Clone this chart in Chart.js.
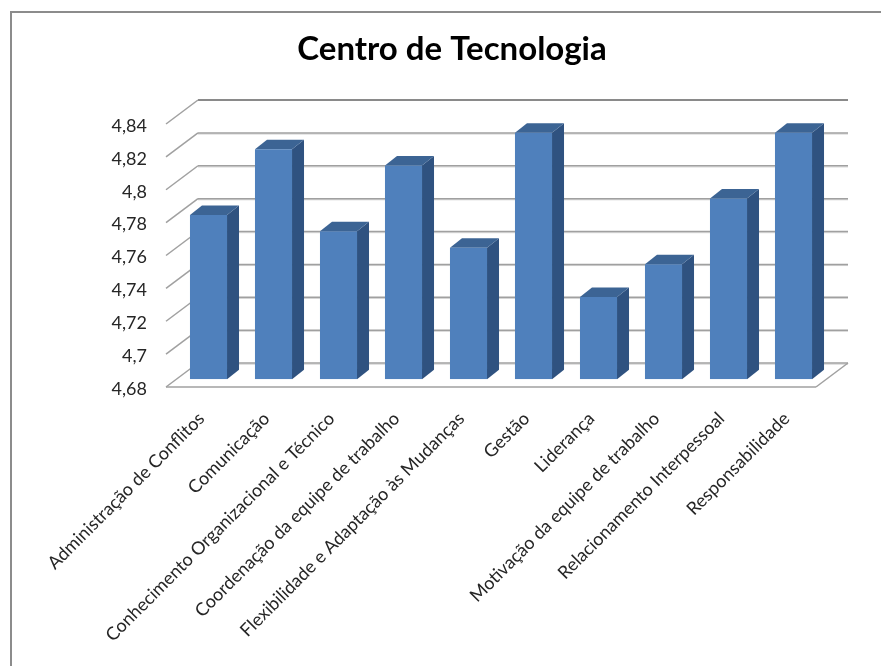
<!DOCTYPE html>
<html lang="pt">
<head>
<meta charset="utf-8">
<title>Centro de Tecnologia</title>
<script src="https://cdn.jsdelivr.net/npm/chart.js@4"></script>
<style>
  html, body { margin: 0; padding: 0; background: #fff; overflow: hidden; }
  canvas { display: block; }
</style>
</head>
<body>
<canvas id="chart" width="881" height="666"></canvas>
<script>
const categories = [
  'Administração de Conflitos',
  'Comunicação',
  'Conhecimento Organizacional e Técnico',
  'Coordenação da equipe de trabalho',
  'Flexibilidade e Adaptação às Mudanças',
  'Gestão',
  'Liderança',
  'Motivação da equipe de trabalho',
  'Relacionamento Interpessoal',
  'Responsabilidade',
];
const values = [4.78, 4.82, 4.77, 4.81, 4.76, 4.83, 4.73, 4.75, 4.79, 4.83];
const axisMin = 4.68;
const axisMax = 4.84;
const axisStep = 0.02;

// the depth of the fake 3d box and of each bar inside it
const wallDx = 32;
const wallDy = -24;
const barShiftX = 10;
const barShiftY = -7.7;
const barDx = 12;
const barDy = -9.5;

function line(ctx, x1, y1, x2, y2, color, width) {
  ctx.strokeStyle = color;
  ctx.lineWidth = width;
  ctx.beginPath();
  ctx.moveTo(x1, y1);
  ctx.lineTo(x2, y2);
  ctx.stroke();
}

function poly(ctx, points, color) {
  ctx.fillStyle = color;
  ctx.beginPath();
  points.forEach((p, i) => (i ? ctx.lineTo(p[0], p[1]) : ctx.moveTo(p[0], p[1])));
  ctx.closePath();
  ctx.fill();
}

const frame3d = {
  id: 'frame3d',
  beforeDraw(chart) {
    // chart border: only top and left show in the picture
    const { ctx } = chart;
    ctx.save();
    line(ctx, 11, 12, 881, 12, '#8c8c8c', 2);
    line(ctx, 11, 11, 11, 666, '#8c8c8c', 2);
    ctx.restore();
  },
  beforeDatasetsDraw(chart) {
    const { ctx, chartArea, scales } = chart;
    const { left, right } = chartArea;
    ctx.save();
    scales.y.ticks.forEach((tick, i) => {
      const y = scales.y.getPixelForTick(i);
      const isTop = i === scales.y.ticks.length - 1;
      if (!isTop) {
        line(ctx, left + wallDx, y + wallDy + 1.2, right + wallDx, y + wallDy + 1.2, '#d4d4d4', 1);
      }
      line(ctx, left + wallDx, y + wallDy, right + wallDx, y + wallDy, isTop ? '#8a8a8a' : '#a0a0a0', isTop ? 2 : 1.5);
      line(ctx, left, y, left + wallDx, y + wallDy, '#a0a0a0', 1.5);
    });
    // floor
    const floor = scales.y.getPixelForValue(axisMin);
    line(ctx, left, floor, right, floor, '#a0a0a0', 1.5);
    line(ctx, right, floor, right + wallDx, floor + wallDy, '#a0a0a0', 1.5);
    ctx.restore();

    // sides and tops of the bars, taken from the bar elements
    ctx.save();
    ctx.translate(barShiftX, barShiftY);
    chart.getDatasetMeta(0).data.forEach((bar) => {
      const { x, y, base, width } = bar.getProps(['x', 'y', 'base', 'width'], true);
      const l = x - width / 2;
      const r = x + width / 2;
      poly(ctx, [[r, y], [r + barDx, y + barDy], [r + barDx, base + barDy], [r, base]], '#2f5280');
      poly(ctx, [[l, y], [l + barDx, y + barDy], [r + barDx, y + barDy], [r, y]], '#3c6494');
    });
    ctx.restore();

    ctx.save();
    ctx.translate(barShiftX, barShiftY);
  },
  afterDatasetsDraw(chart) {
    chart.ctx.restore();
  },
};

new Chart(document.getElementById('chart'), {
  type: 'bar',
  data: {
    labels: categories,
    datasets: [{
      data: values,
      base: axisMin,
      backgroundColor: '#4f80bc',
      borderWidth: 0,
      barPercentage: 0.57,
      categoryPercentage: 1,
    }],
  },
  options: {
    responsive: false,
    animation: false,
    layout: { padding: { left: 88, right: 65 } },
    plugins: {
      legend: { display: false },
      tooltip: { enabled: false },
      title: {
        display: true,
        text: 'Centro de Tecnologia',
        color: '#000',
        font: { family: 'Lato', size: 33, weight: 'bold' },
        padding: { top: 30, bottom: 54.4 },
      },
    },
    scales: {
      x: {
        afterFit(scale) { scale.height = 279; },
        grid: { display: false },
        border: { display: false },
        ticks: {
          autoSkip: false,
          minRotation: 45,
          maxRotation: 45,
          padding: 13,
          labelOffset: 3,
          color: '#262626',
          font: { family: 'Lato', size: 18 },
        },
      },
      y: {
        min: axisMin,
        max: axisMax,
        afterFit(scale) { scale.width = 78; },
        grid: { display: false, drawTicks: false },
        border: { display: false },
        ticks: {
          stepSize: axisStep,
          padding: 19,
          labelOffset: 2,
          color: '#262626',
          font: { family: 'Lato', size: 18 },
          callback: (value) => String(Number(value.toFixed(2))).replace('.', ','),
        },
      },
    },
  },
  plugins: [frame3d],
});
</script>
</body>
</html>
